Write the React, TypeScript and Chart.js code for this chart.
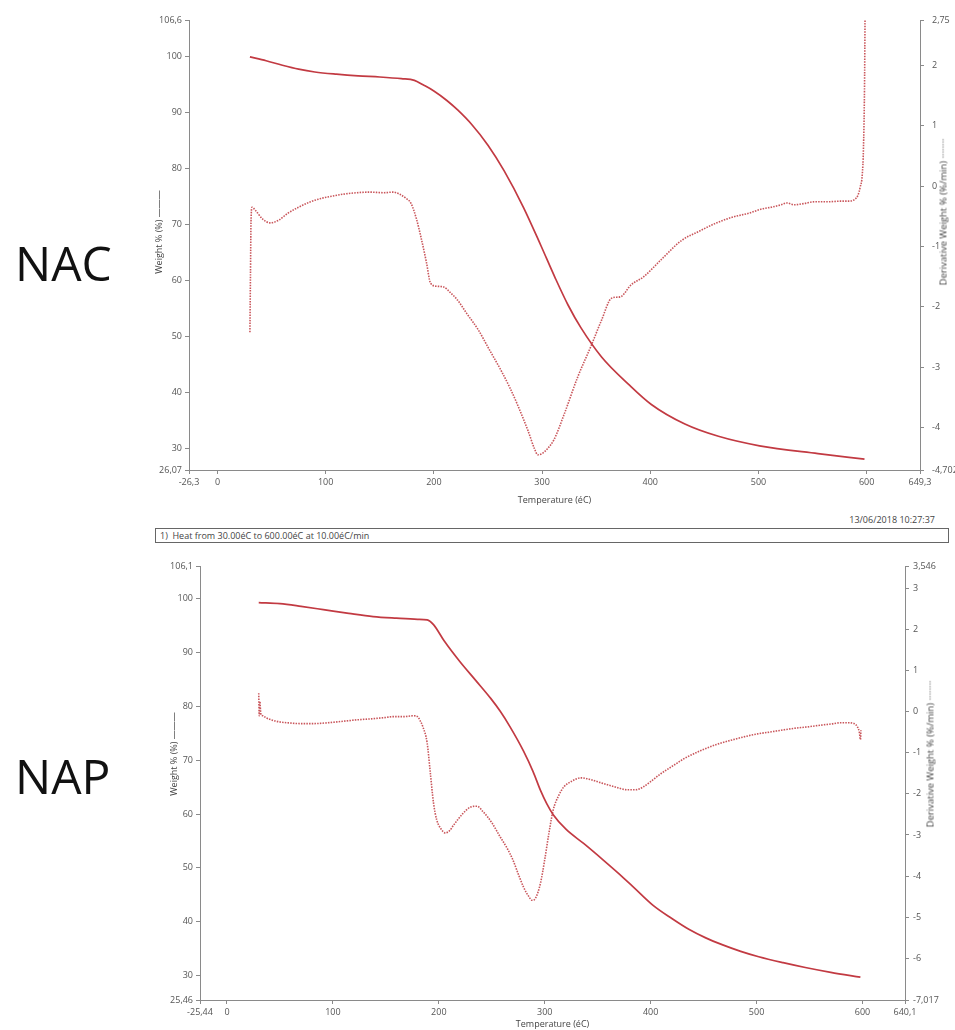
import React, { useEffect, useRef } from 'react';
import { Chart, registerables } from 'chart.js';

Chart.register(...registerables);

// ---------- NAC data ----------
const nacWeightT = [30, 45, 60, 75, 90, 110, 130, 150, 170, 182, 190, 200, 212, 222, 235, 250, 265, 283, 299, 312, 324, 336, 355, 380, 401, 432, 463, 501, 555, 598];
const nacWeight = [100, 99.3, 98.5, 97.8, 97.3, 96.9, 96.6, 96.4, 96.1, 95.8, 95.0, 93.9, 92.2, 90.5, 87.9, 84.2, 79.6, 73.0, 66.2, 60.5, 55.6, 51.5, 46.3, 41.4, 37.8, 34.3, 32.1, 30.4, 29.0, 28.0];
const nacDerivT = [30, 30.5, 31, 32, 35, 42, 49, 57, 65, 75, 86, 97, 108, 118, 129, 140, 154, 162, 169, 174, 179, 184, 188, 193, 197, 203, 209, 215, 222, 230, 241, 251, 262, 270, 278, 287, 293, 296, 300, 305, 311, 320, 333, 345, 355, 364, 369, 373, 382, 394, 410, 429, 445, 460, 475, 491, 503, 512, 521, 526, 533, 542, 552, 565, 575, 583, 589, 592, 594, 596, 597, 598, 598.5];
const nacDeriv = [-2.42, -1.5, -0.6, -0.35, -0.4, -0.55, -0.61, -0.56, -0.45, -0.35, -0.26, -0.2, -0.16, -0.13, -0.11, -0.1, -0.11, -0.1, -0.14, -0.2, -0.29, -0.55, -0.84, -1.25, -1.61, -1.66, -1.67, -1.76, -1.89, -2.1, -2.38, -2.7, -3.05, -3.33, -3.65, -4.05, -4.35, -4.45, -4.43, -4.35, -4.2, -3.8, -3.16, -2.66, -2.22, -1.86, -1.84, -1.83, -1.64, -1.5, -1.22, -0.9, -0.75, -0.62, -0.52, -0.45, -0.38, -0.35, -0.31, -0.28, -0.31, -0.29, -0.26, -0.26, -0.25, -0.25, -0.22, -0.15, -0.02, 0.2, 0.6, 1.6, 2.75];
const nacXRange = [-26.3, 649.3];
const nacXTicks = [0, 100, 200, 300, 400, 500, 600];
const nacLeftRange = [26.07, 106.6];
const nacLeftTicks = [30, 40, 50, 60, 70, 80, 90, 100];
const nacRightRange = [-4.702, 2.75];
const nacRightTicks = [-4, -3, -2, -1, 0, 1, 2];

// ---------- NAP data ----------
const napWeightT = [30, 50, 70, 91, 115, 138, 160, 180, 189, 195, 205, 220, 235, 249, 258, 267, 280, 289, 296, 302, 308, 320, 337, 355, 373, 384, 402, 420, 436, 452, 468, 485, 502, 525, 546, 570, 598];
const napWeight = [99.3, 99.1, 98.6, 98.0, 97.3, 96.7, 96.4, 96.2, 96.1, 95.2, 92.2, 88.3, 84.8, 81.5, 79.1, 76.3, 71.7, 67.9, 64.4, 61.9, 59.9, 57.2, 54.5, 51.5, 48.4, 46.4, 43.1, 40.6, 38.6, 37.0, 35.7, 34.5, 33.5, 32.4, 31.5, 30.6, 29.7];
const napDerivT = [30, 30.5, 31, 32, 34, 37, 42, 50, 57, 70, 81, 95, 107, 122, 138, 150, 157, 167, 176, 180, 182, 185, 189, 192, 195, 198, 202, 206, 210, 214, 222, 230, 236, 242, 250, 258, 264, 270, 275, 280, 285, 288, 291, 296, 300, 304, 308, 313, 318, 325, 334, 343, 353, 365, 378, 386, 393, 400, 409, 416, 425, 431, 447, 462, 478, 490, 501, 514, 526, 537, 548, 560, 570, 579, 586, 592, 595, 597, 598, 598.5];
const napDeriv = [0.45, -0.1, 0.25, -0.05, -0.1, -0.15, -0.2, -0.25, -0.27, -0.29, -0.29, -0.27, -0.24, -0.2, -0.17, -0.14, -0.12, -0.12, -0.1, -0.12, -0.2, -0.37, -0.76, -1.49, -2.22, -2.63, -2.85, -2.95, -2.9, -2.76, -2.5, -2.32, -2.3, -2.44, -2.7, -3.05, -3.3, -3.61, -3.95, -4.27, -4.5, -4.59, -4.55, -4.17, -3.6, -2.95, -2.39, -2.05, -1.83, -1.7, -1.61, -1.65, -1.73, -1.82, -1.9, -1.9, -1.83, -1.7, -1.52, -1.4, -1.25, -1.15, -0.95, -0.8, -0.68, -0.6, -0.54, -0.49, -0.44, -0.4, -0.37, -0.33, -0.3, -0.27, -0.27, -0.29, -0.36, -0.5, -0.68, -0.45];
const napXRange = [-25.44, 640.1];
const napXTicks = [0, 100, 200, 300, 400, 500, 600];
const napLeftRange = [25.46, 106.1];
const napLeftTicks = [30, 40, 50, 60, 70, 80, 90, 100];
const napRightRange = [-7.017, 3.546];
const napRightTicks = [-6, -5, -4, -3, -2, -1, 0, 1, 2, 3];

const FONT = "'Open Sans', 'DejaVu Sans', sans-serif";
const WEIGHT_COLOR = '#c23a42';
const DERIV_COLOR = '#c9565b';
const AXIS_COLOR = '#8a8a8a';
const TICK_COLOR = '#555';

const fmt = (v: number) => String(v).replace('.', ',');

const pts = (xs: number[], ys: number[]) => xs.map((x, i) => ({ x, y: ys[i] }));

interface Spec {
  wT: number[]; w: number[]; dT: number[]; d: number[];
  xRange: number[]; xTicks: number[];
  lRange: number[]; lTicks: number[];
  rRange: number[]; rTicks: number[];
  leftW: number; rightW: number; xH: number; titlePad: number; rightPad: number;
}

function makeConfig(s: Spec): any {
  const axisBase = {
    grid: { display: true, drawOnChartArea: false, drawTicks: true, tickLength: 4, color: AXIS_COLOR },
    border: { display: true, color: AXIS_COLOR, width: 1 },
  };
  const tickFont = { family: FONT, size: 9 };
  const setTicks = (range: number[], list: number[]) => (scale: any) => {
    scale.ticks = [range[0], ...list, range[1]].map((v) => ({ value: v }));
  };
  return {
    type: 'line',
    data: {
      datasets: [
        {
          label: 'Weight % (%)',
          data: pts(s.wT, s.w),
          yAxisID: 'yL',
          borderColor: WEIGHT_COLOR,
          borderWidth: 1.7,
          pointRadius: 0,
          cubicInterpolationMode: 'monotone',
          fill: false,
        },
        {
          label: 'Derivative Weight % (%/min)',
          data: pts(s.dT, s.d),
          yAxisID: 'yR',
          borderColor: DERIV_COLOR,
          borderWidth: 1.6,
          borderDash: [1.5, 1.2],
          pointRadius: 0,
          cubicInterpolationMode: 'monotone',
          fill: false,
        },
      ],
    },
    options: {
      animation: false,
      responsive: false,
      layout: { padding: { top: 20, left: 0, right: 0, bottom: 0 } },
      plugins: { legend: { display: false }, tooltip: { enabled: false } },
      scales: {
        x: {
          type: 'linear',
          min: s.xRange[0],
          max: s.xRange[1],
          ...axisBase,
          ticks: { autoSkip: false, maxRotation: 0, font: tickFont, color: TICK_COLOR, padding: 3, callback: (v: number) => fmt(v) },
          afterBuildTicks: setTicks(s.xRange, s.xTicks),
          afterFit: (scale: any) => { scale.height = s.xH; },
          title: {
            display: true,
            text: 'Temperature (éC)',
            font: { family: FONT, size: 9, lineHeight: 1.2 },
            color: '#444',
            padding: { top: s.titlePad, bottom: 0 },
          },
        },
        yL: {
          type: 'linear',
          position: 'left',
          min: s.lRange[0],
          max: s.lRange[1],
          ...axisBase,
          ticks: { autoSkip: false, font: tickFont, color: TICK_COLOR, padding: 3, callback: (v: number) => fmt(v) },
          afterBuildTicks: setTicks(s.lRange, s.lTicks),
          afterFit: (scale: any) => { scale.width = s.leftW; },
        },
        yR: {
          type: 'linear',
          position: 'right',
          min: s.rRange[0],
          max: s.rRange[1],
          ...axisBase,
          ticks: { autoSkip: false, font: tickFont, color: TICK_COLOR, padding: s.rightPad, callback: (v: number) => fmt(v) },
          afterBuildTicks: setTicks(s.rRange, s.rTicks),
          afterFit: (scale: any) => { scale.width = s.rightW; },
        },
      },
    },
  };
}

const rotStyle = (x: number, y: number, size = 9): React.CSSProperties => ({
  position: 'absolute',
  left: x,
  top: y,
  transform: 'translate(-50%, -50%) rotate(-90deg)',
  whiteSpace: 'nowrap',
  fontFamily: FONT,
  fontSize: size,
  color: '#444',
  lineHeight: '11px',
});

export default function App() {
  const c1 = useRef<HTMLCanvasElement | null>(null);
  const c2 = useRef<HTMLCanvasElement | null>(null);

  useEffect(() => {
    const ch1 = new Chart(c1.current as HTMLCanvasElement, makeConfig({
      wT: nacWeightT, w: nacWeight, dT: nacDerivT, d: nacDeriv,
      xRange: nacXRange, xTicks: nacXTicks,
      lRange: nacLeftRange, lTicks: nacLeftTicks,
      rRange: nacRightRange, rTicks: nacRightTicks,
      leftW: 189, rightW: 35, xH: 36, titlePad: 4.6, rightPad: 8,
    }));
    const ch2 = new Chart(c2.current as HTMLCanvasElement, makeConfig({
      wT: napWeightT, w: napWeight, dT: napDerivT, d: napDeriv,
      xRange: napXRange, xTicks: napXTicks,
      lRange: napLeftRange, lTicks: napLeftTicks,
      rRange: napRightRange, rTicks: napRightTicks,
      leftW: 200, rightW: 50, xH: 30, titlePad: 1.6, rightPad: 4,
    }));
    return () => { ch1.destroy(); ch2.destroy(); };
  }, []);

  const bigLabel: React.CSSProperties = {
    position: 'absolute',
    left: 15,
    fontFamily: FONT,
    fontSize: 48,
    lineHeight: 1,
    color: '#111',
  };

  return (
    <div style={{ position: 'absolute', left: 0, top: 0, width: 955, height: 1030, background: '#fff', overflow: 'hidden' }}>
      <canvas ref={c1} width={955} height={506} style={{ position: 'absolute', left: 0, top: 0 }} />
      <canvas ref={c2} width={955} height={484} style={{ position: 'absolute', left: 0, top: 546 }} />

      <div style={{ ...bigLabel, top: 239 }}>NAC</div>
      <div style={{ ...bigLabel, top: 752 }}>NAP</div>

      <div style={rotStyle(158, 232)}>Weight % (%) ———</div>
      <div style={rotStyle(943, 212, 9.5)}>Derivative Weight % (%/min) ········</div>
      <div style={rotStyle(173, 754)}>Weight % (%) ———</div>
      <div style={rotStyle(930, 754, 9.5)}>Derivative Weight % (%/min) ········</div>

      <div style={{ position: 'absolute', right: 955 - 935, top: 513, fontFamily: FONT, fontSize: 9, color: '#444', whiteSpace: 'nowrap', lineHeight: '13px' }}>
        13/06/2018 10:27:37
      </div>
      <div style={{ position: 'absolute', left: 155, top: 528, width: 788, height: 13, border: '1px solid #666', fontFamily: FONT, fontSize: 9, color: '#444', lineHeight: '13px', paddingLeft: 4, boxSizing: 'content-box', whiteSpace: 'nowrap' }}>
        1)&nbsp;&nbsp;Heat from 30.00éC to 600.00éC at 10.00éC/min
      </div>
    </div>
  );
}
